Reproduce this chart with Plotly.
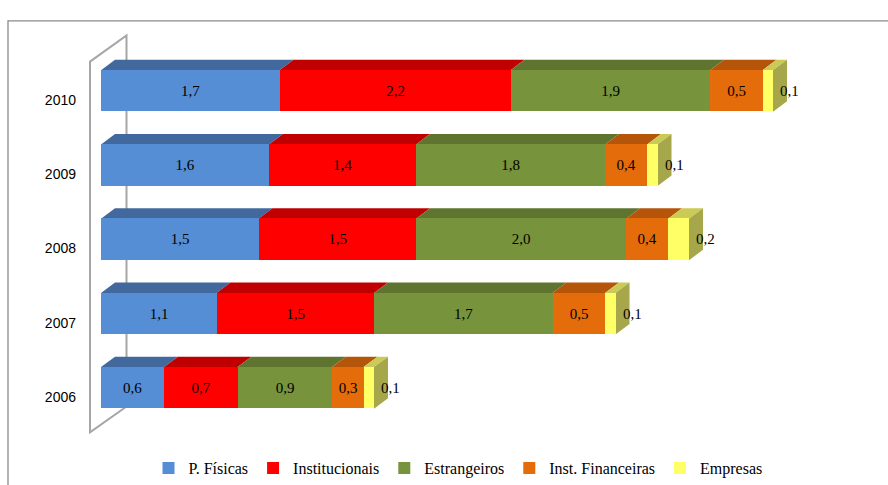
import plotly.graph_objects as go

# ---------------- data ----------------
years = ["2006", "2007", "2008", "2009", "2010"]
series_names = ["P. Físicas", "Institucionais", "Estrangeiros", "Inst. Financeiras", "Empresas"]
p_fisicas = [0.6, 1.1, 1.5, 1.6, 1.7]
institucionais = [0.7, 1.5, 1.5, 1.4, 2.2]
estrangeiros = [0.9, 1.7, 2.0, 1.8, 1.9]
inst_financeiras = [0.3, 0.5, 0.4, 0.4, 0.5]
empresas = [0.1, 0.1, 0.2, 0.1, 0.1]
series_values = [p_fisicas, institucionais, estrangeiros, inst_financeiras, empresas]

# ---------------- styles ----------------
front_colors = ["#558ed5", "#ff0000", "#77933c", "#e46c0a", "#ffff66"]
top_colors = ["#41699e", "#c00000", "#5f752f", "#b4550a", "#caca55"]
side_colors = ["#355a87", "#a00000", "#4f6227", "#964708", "#a6a64b"]
SERIF = "Liberation Serif, Times New Roman, serif"
SANS = "Liberation Sans, Arial, sans-serif"

W_PX, H_PX = 888, 485
L, T = 101, 35.5
XMAX = 7.1
PX_PER_UNIT = 105.0
PLOT_W = XMAX * PX_PER_UNIT
Y0, Y1 = -0.75, 4.75
PX_PER_CAT = 74.7
PLOT_H = (Y1 - Y0) * PX_PER_CAT
BAR_W = 0.56
DX = 14 / PX_PER_UNIT      # depth in x data units
DY = 10.5 / PX_PER_CAT     # depth in y data units


def px2paper(px, py):
    return px / W_PX, 1 - py / H_PX


def fmt(v):
    return f"{v:.1f}".replace(".", ",")


ypos = list(range(len(years)))

fig = go.Figure()
for k, (name, vals) in enumerate(zip(series_names, series_values)):
    last = k == len(series_names) - 1
    fig.add_trace(go.Bar(
        name=name, x=vals, y=ypos, orientation="h", width=BAR_W,
        marker=dict(color=front_colors[k], line=dict(width=0)),
        text=None if last else [fmt(v) for v in vals],
        textposition="inside", insidetextanchor="middle", textangle=0,
        constraintext="none",
        textfont=dict(family=SERIF, size=15, color="black"),
        hoverinfo="skip",
    ))

shapes = []
# frame
fx0, fy0 = px2paper(8, 21)
fx1, fy1 = px2paper(900, 500)
shapes.append(dict(type="rect", xref="paper", yref="paper", x0=fx0, y0=fy1, x1=fx1, y1=fy0,
                   line=dict(color="#8a8a8a", width=1.3), fillcolor="rgba(0,0,0,0)", layer="below"))
# back wall
pts = [px2paper(90, 62), px2paper(126.5, 35.7), px2paper(126.5, 409), px2paper(90, 435)]
path = "M " + " L ".join(f"{x},{y}" for x, y in pts) + " Z"
shapes.append(dict(type="path", xref="paper", yref="paper", path=path,
                   line=dict(color="#a6a6a6", width=2), layer="below"))

# 3D top and side faces computed from data
for i in ypos:
    cum = 0.0
    yt = i + BAR_W / 2
    yb = i - BAR_W / 2
    nz = [k for k in range(len(series_values)) if series_values[k][i] > 0]
    for k in nz:
        v = series_values[k][i]
        x0, x1 = cum, cum + v
        shapes.append(dict(
            type="path", xref="x", yref="y", layer="below",
            path=f"M {x0},{yt} L {x1},{yt} L {x1+DX},{yt+DY} L {x0+DX},{yt+DY} Z",
            fillcolor=top_colors[k], line=dict(width=0)))
        cum = x1
    k = nz[-1]
    shapes.append(dict(
        type="path", xref="x", yref="y", layer="below",
        path=f"M {cum},{yb} L {cum},{yt} L {cum+DX},{yt+DY} L {cum+DX},{yb+DY} Z",
        fillcolor=side_colors[k], line=dict(width=0)))

annotations = []
for i in ypos:
    total = sum(s[i] for s in series_values)
    annotations.append(dict(
        x=total, y=i, xref="x", yref="y", text=fmt(empresas[i]), showarrow=False,
        xanchor="left", yanchor="middle", xshift=5,
        font=dict(family=SERIF, size=15, color="black")))

lx, ly = px2paper(458, 471)
fig.update_layout(
    width=W_PX, height=H_PX, autosize=False,
    margin=dict(l=0, r=0, t=0, b=0, pad=0),
    paper_bgcolor="white", plot_bgcolor="rgba(0,0,0,0)",
    barmode="stack", bargap=0,
    showlegend=True,
    legend=dict(orientation="h", x=lx, y=ly, xanchor="center", yanchor="middle",
                font=dict(family=SERIF, size=16, color="black"),
                itemwidth=30, tracegroupgap=0, traceorder="normal",
                bgcolor="rgba(0,0,0,0)"),
    xaxis=dict(range=[0, XMAX], visible=False, fixedrange=True,
               domain=[L / W_PX, (L + PLOT_W) / W_PX]),
    yaxis=dict(range=[Y0, Y1], tickmode="array", tickvals=ypos, ticktext=years,
               domain=[1 - (T + PLOT_H) / H_PX, 1 - T / H_PX], automargin=False,
               showgrid=False, zeroline=False, showline=False, ticks="",
               tickfont=dict(family=SANS, size=14, color="black"),
               ticklabelstandoff=24, ticklabelshift=9, fixedrange=True),
    shapes=shapes, annotations=annotations,
    uniformtext=dict(mode=False),
)

fig.write_html("out.html")
